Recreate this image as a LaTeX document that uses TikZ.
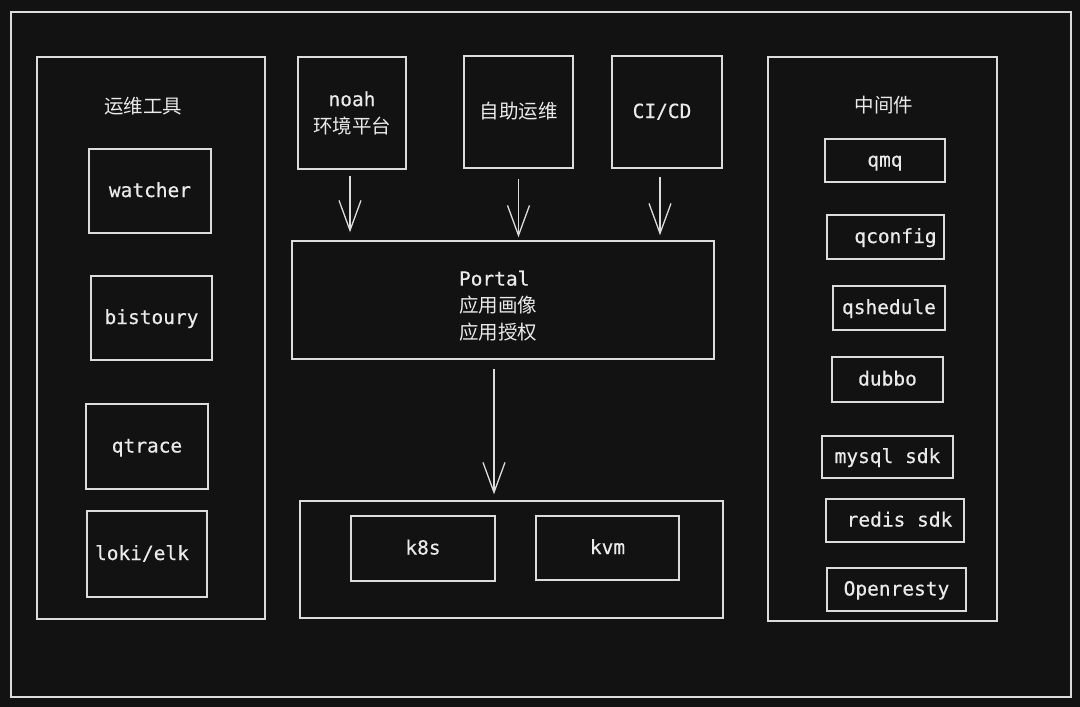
\documentclass[tikz,border=0pt]{standalone}
\usepackage{fontspec}
\setmainfont{DejaVu Sans Mono}[FakeBold=0.5]
\newfontfamily\cjk{Noto Sans CJK SC}
\usetikzlibrary{arrows.meta}
\definecolor{bgc}{HTML}{121212}
\definecolor{ink}{HTML}{DCDCDC}
\definecolor{txt}{HTML}{EAEAEA}
\tikzset{
  box/.style={draw=ink, line width=1.4pt, text=txt, inner sep=0pt, align=center,
    text height=16pt, text depth=4pt, font=\fontsize{19.5}{27}\selectfont},
  frm/.style={draw=ink, line width=1.4pt, inner sep=0pt},
  lbl/.style={text=txt, inner sep=0pt, align=left, font=\fontsize{19.5}{27}\selectfont},
  arr/.style={draw=ink, line width=1.3pt, -{Straight Barb[length=30pt,width=22pt,line width=1.3pt]}},
}
\begin{document}
\begin{tikzpicture}[x=1pt,y=-1pt]
\fill[bgc] (0,0) rectangle (1080,707);
\useasboundingbox (0,0) rectangle (1080,707);
% outer frame
\node[frm, minimum width=1060pt, minimum height=685pt] (frame) at (541,354.5) {};
% left panel
\node[frm, minimum width=228pt, minimum height=562pt] (left) at (151,338) {};
\node[lbl, font=\fontsize{19.5}{27}\selectfont\cjk] (ltitle) at (143,106) {运维工具};
\node[box, minimum width=122pt, minimum height=84pt] (watcher) at (150,191) {watcher};
\node[box, minimum width=121pt, minimum height=84pt] (bistoury) at (151.5,318) {bistoury};
\node[box, minimum width=122pt, minimum height=85pt] (qtrace) at (147,446.5) {qtrace};
\node[box, minimum width=120pt, minimum height=86pt] (loki) at (147,554) {loki/elk\hspace*{10pt}};
% top boxes
\node[frm, minimum width=108pt, minimum height=112pt] (noah) at (352,113) {};
\node[lbl, align=center] (noahtext) at (352,113) {noah\\{\cjk 环境平台}};
\node[box, minimum width=109pt, minimum height=112pt, font=\fontsize{19.5}{27}\selectfont\cjk] (zizhu) at (518.5,112) {自助运维};
\node[box, minimum width=110pt, minimum height=112pt] (cicd) at (667,112) {CI/CD\hspace*{10pt}};
% portal
\node[frm, minimum width=422pt, minimum height=118pt] (portal) at (503,300) {};
\node[lbl] (portaltext) at (498,306) {Portal\\{\cjk 应用画像}\\{\cjk 应用授权}};
% bottom
\node[frm, minimum width=423pt, minimum height=117pt] (bottom) at (511.5,559.5) {};
\node[box, minimum width=144pt, minimum height=65pt] (k8s) at (423,548.5) {k8s};
\node[box, minimum width=143pt, minimum height=64pt] (kvm) at (607.5,548) {kvm};
% right panel
\node[frm, minimum width=229pt, minimum height=564pt] (right) at (882.5,339) {};
\node[lbl, font=\fontsize{19.5}{27}\selectfont\cjk] (rtitle) at (884,105) {中间件};
\node[box, minimum width=120pt, minimum height=43pt] (qmq) at (885,160.5) {qmq};
\node[box, minimum width=117pt, minimum height=44pt] (qconfig) at (885.5,237) {\hspace*{20pt}qconfig};
\node[box, minimum width=112pt, minimum height=44pt] (qshedule) at (889,308) {qshedule};
\node[box, minimum width=111pt, minimum height=45pt] (dubbo) at (887.5,379.5) {dubbo};
\node[box, minimum width=131pt, minimum height=42pt] (mysql) at (887.5,457) {mysql sdk};
\node[box, minimum width=138pt, minimum height=43pt] (redis) at (895,520.5) {\hspace*{9pt}redis sdk};
\node[box, minimum width=139pt, minimum height=43pt] (openresty) at (896.5,589.5) {Openresty};
% arrows
\draw[arr, shorten <=6pt, shorten >=8pt] ([xshift=-2pt]noah.south) -- ([xshift=-2pt]noah.south |- portal.north);
\draw[arr, shorten <=10pt, shorten >=3pt] (zizhu.south) -- (zizhu.south |- portal.north);
\draw[arr, shorten <=8pt, shorten >=5pt] ([xshift=-7pt]cicd.south) -- ([xshift=-7pt]cicd.south |- portal.north);
\draw[arr, shorten <=9pt, shorten >=6pt] ([xshift=-9pt]portal.south) -- ([xshift=-9pt]portal.south |- bottom.north);
\end{tikzpicture}
\end{document}
